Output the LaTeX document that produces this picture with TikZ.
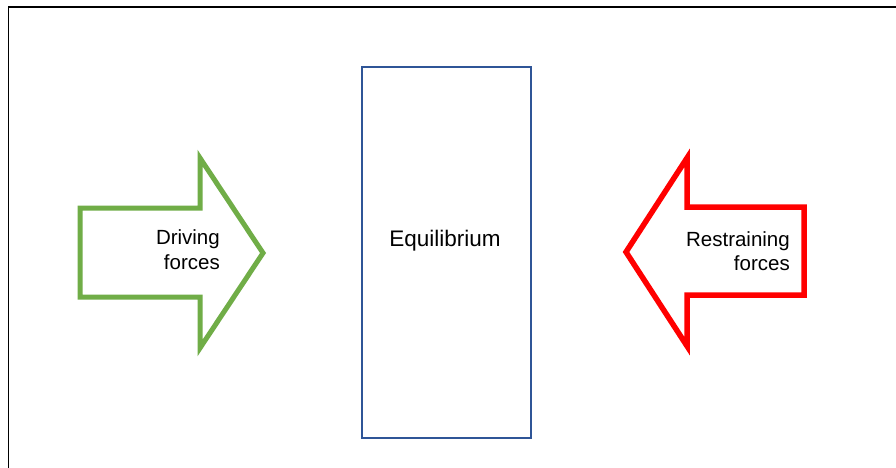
\documentclass[tikz,border=0pt]{standalone}
\usepackage{fontspec}
\setmainfont{Liberation Sans}
\definecolor{arrgreen}{HTML}{70AD47}
\definecolor{arrred}{HTML}{FF0000}
\definecolor{boxblue}{HTML}{2F5597}
\begin{document}
\begin{tikzpicture}[x=1pt,y=-1pt,
  framerule/.style={draw=black,line width=1.4pt},
  greenarrow/.style={draw=arrgreen,line width=5pt,miter limit=10},
  redarrow/.style={draw=arrred,line width=5.5pt,miter limit=10},
  eqbox/.style={draw=boxblue,line width=2pt},
  lbl/.style={inner sep=0pt,font=\fontsize{20.5}{24.5}\selectfont,align=right},
  eqlbl/.style={inner sep=0pt,font=\fontsize{22.5}{26}\selectfont}]
\useasboundingbox (0,0) rectangle (896,468);
\fill[white] (0,0) rectangle (896,468);
% frame lines (left and top)
\coordinate (fbl) at (8.5,468);
\coordinate (ftl) at (8.5,7);
\coordinate (ftr) at (896,7);
\draw[framerule] (fbl) -- (ftl) -- (ftr);
% equilibrium box
\node[eqbox,minimum width=169pt,minimum height=371pt,inner sep=0pt] (eq) at (446.5,252.5) {};
\node[eqlbl,anchor=base] (eqtext) at (445,246.5) {Equilibrium};
% green arrow
\draw[greenarrow] (80,208) -- (200,208) -- (200,158) -- (263,253) -- (200,348) -- (200,297) -- (80,297) -- cycle;
\node[lbl,anchor=north east] (drv) at (220,229.5) {Driving\\forces};
% red arrow
\draw[redarrow] (804,207) -- (687,207) -- (687,158) -- (626,252) -- (687,346) -- (687,295) -- (804,295) -- cycle;
\node[lbl,anchor=north east] (rst) at (790,231) {Restraining\\forces};
\end{tikzpicture}
\end{document}
